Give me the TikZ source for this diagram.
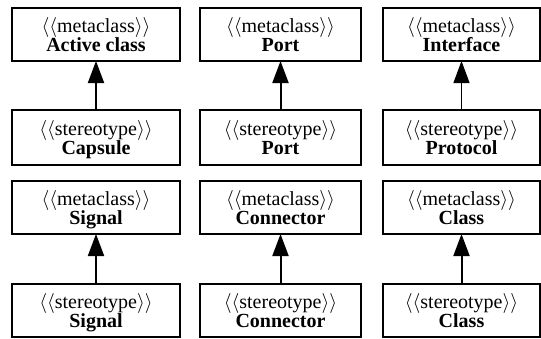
\documentclass[tikz,border=0pt]{standalone}
\usepackage{fontspec}
\setmainfont{Liberation Serif}
\usetikzlibrary{arrows.meta}
\tikzset{
    umlbox/.style={shape=rectangle, draw=black, line width=1pt, align=center,
        inner sep=0pt, outer sep=0pt, minimum height=26.5pt,
        font=\rmfamily\fontsize{10}{9.75}\selectfont},
    gen/.style={-{Triangle[length=11pt,width=8pt]}, line width=1pt},
    genthin/.style={gen, line width=0.6pt}
}
% keyword line over bold name, fixed baseline distance
\newcommand{\umltext}[2]{\raisebox{0pt}[\height][0pt]{$\langle\langle$#1$\rangle\rangle$}\\\raisebox{0pt}[0pt][0pt]{\textbf{#2}}}
\begin{document}
\begin{tikzpicture}[x=0.5pt, y=-0.5pt]
    \useasboundingbox (0,0) rectangle (541,338);
    \node[umlbox, minimum width=84pt] (active) at (96,34.5) {\umltext{metaclass}{Active class}};
    \node[umlbox, minimum width=84pt, minimum height=27.5pt] (capsule) at (96,137.5) {\umltext{stereotype}{Capsule}};
    \node[umlbox, minimum width=84pt] (msignal) at (96,207.5) {\umltext{metaclass}{Signal}};
    \node[umlbox, minimum width=84pt] (ssignal) at (96,310.5) {\umltext{stereotype}{Signal}};
    \node[umlbox, minimum width=80.5pt] (mport) at (280.5,34.5) {\umltext{metaclass}{Port}};
    \node[umlbox, minimum width=80.5pt, minimum height=27.5pt] (sport) at (280.5,137.5) {\umltext{stereotype}{Port}};
    \node[umlbox, minimum width=80.5pt] (mconn) at (280.5,207.5) {\umltext{metaclass}{Connector}};
    \node[umlbox, minimum width=80.5pt] (sconn) at (280.5,310.5) {\umltext{stereotype}{Connector}};
    \node[umlbox, minimum width=78.5pt] (interface) at (461.5,34.5) {\umltext{metaclass}{Interface}};
    \node[umlbox, minimum width=78.5pt, minimum height=27.5pt] (protocol) at (461.5,137.5) {\umltext{stereotype}{Protocol}};
    \node[umlbox, minimum width=78.5pt] (mclass) at (461.5,207.5) {\umltext{metaclass}{Class}};
    \node[umlbox, minimum width=78.5pt] (sclass) at (461.5,310.5) {\umltext{stereotype}{Class}};
    \path [gen] (capsule) edge (active);
    \path [gen] (ssignal) edge (msignal);
    \path [gen] (sport) edge (mport);
    \path [gen] (sconn) edge (mconn);
    \path [genthin] (protocol) edge (interface);
    \path [gen] (sclass) edge (mclass);
\end{tikzpicture}
\end{document}
